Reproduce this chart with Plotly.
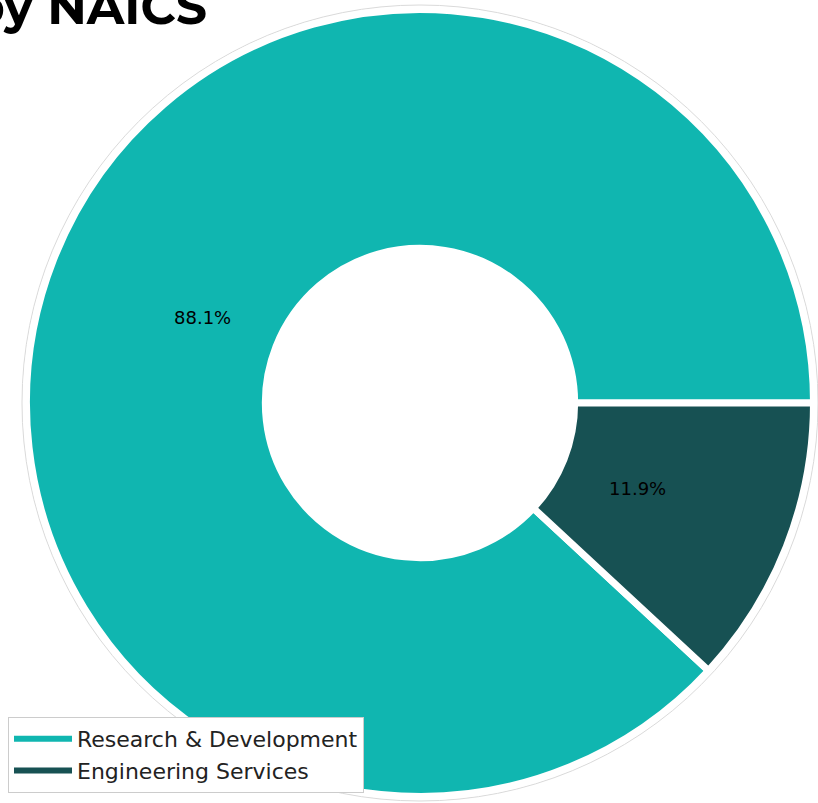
import math
import plotly.graph_objects as go

# NAICS categories and their share of the total
categories = ["Research & Development", "Engineering Services"]
shares = [88.1, 11.9]
colors = ["#10b6b0", "#175153"]

W, H = 818, 803
CX, CY = 420, 403          # donut centre (px, from top-left)
R = 393.5                  # pie radius incl. half of the white edge
HOLE = 0.393
EDGE = 7

total = sum(shares)
# first wedge starts where the last one ends, so the last wedge sits just below 3 o'clock
rotation = 90 + shares[-1] / total * 360

fig = go.Figure()

fig.add_trace(go.Pie(
    labels=categories,
    values=shares,
    sort=False,
    direction="counterclockwise",
    rotation=rotation,
    hole=HOLE,
    marker=dict(colors=colors, line=dict(color="white", width=EDGE)),
    textinfo="none",
    showlegend=False,
    domain=dict(x=[(CX - R) / W, (CX + R) / W],
                y=[(H - CY - R) / H, (H - CY + R) / H]),
))

# legend entries drawn as short lines
for name, col in zip(categories, colors):
    fig.add_trace(go.Scatter(
        x=[None], y=[None], mode="lines", name=name,
        line=dict(color=col, width=6),
    ))

# percentage labels placed at 60% of the outer radius, mid-angle of each wedge
start = 0.0
r_lab = 0.6 * 390
annotations = []
for v in shares:
    sweep = v / total * 360
    mid = math.radians(start + sweep / 2)
    start += sweep
    px = CX + r_lab * math.cos(mid)
    py_up = (H - CY) + r_lab * math.sin(mid)
    annotations.append(dict(
        x=px / W, y=py_up / H, xref="paper", yref="paper",
        text=f"{v / total * 100:.1f}%", showarrow=False,
        font=dict(family="DejaVu Sans", size=18, color="black"),
        xanchor="center", yanchor="middle",
    ))

# title, partly running off the top-left of the canvas
annotations.append(dict(
    x=209 / W, y=1.0, xref="paper", yref="paper",
    text="<b>by NAICS</b>", showarrow=False,
    font=dict(family="Montserrat, Open Sans, sans-serif", size=49, color="black"),
    xanchor="right", yanchor="middle", yshift=-6,
))

# thin grey rim around the donut
RR = 398
fig.add_shape(type="circle", xref="paper", yref="paper",
              x0=(CX - RR) / W, x1=(CX + RR) / W,
              y0=(H - CY - RR) / H, y1=(H - CY + RR) / H,
              line=dict(color="#dadada", width=1), layer="below")

fig.update_layout(
    width=W, height=H,
    margin=dict(l=0, r=0, t=0, b=0),
    paper_bgcolor="white", plot_bgcolor="white",
    xaxis=dict(visible=False), yaxis=dict(visible=False),
    annotations=annotations,
    legend=dict(
        x=8 / W, y=10 / H, xanchor="left", yanchor="bottom",
        bgcolor="white", bordercolor="#cccccc", borderwidth=1,
        font=dict(family="DejaVu Sans", size=22, color="#222222"),
        itemwidth=58, tracegroupgap=0,
    ),
)

fig.write_html("out.html")
